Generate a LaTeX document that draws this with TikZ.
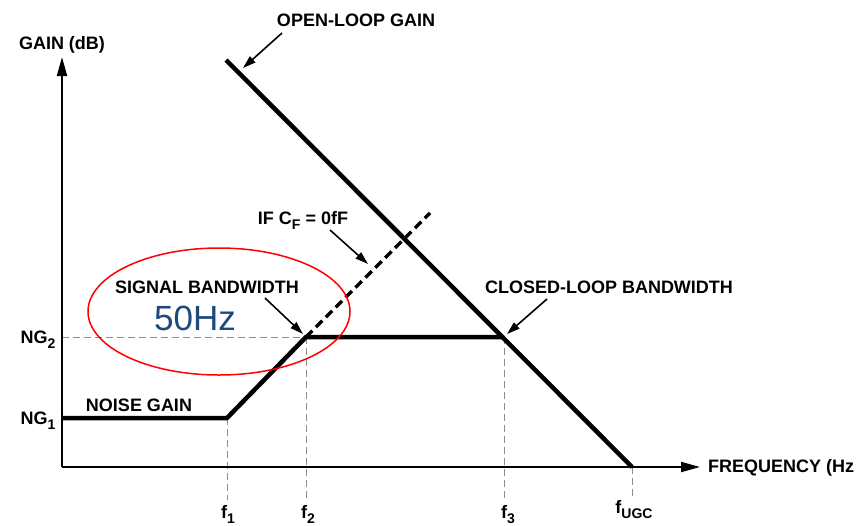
\documentclass[tikz,border=0pt]{standalone}
\usepackage{fontspec}
\setmainfont{Liberation Sans}[BoldFont={Liberation Sans Bold}]
\newfontfamily\lblfont{Liberation Sans Bold}
\usetikzlibrary{arrows.meta,shapes.geometric}
\definecolor{hzblue}{RGB}{31,73,125}
\newcommand\lsub[1]{\raisebox{-5pt}{\fontsize{14}{14}\selectfont #1}}
\begin{document}
\begin{tikzpicture}[x=1pt,y=-1pt,
  lbl/.style={font=\lblfont\fontsize{18}{20}\selectfont, inner sep=0pt},
  curve/.style={line width=4.5pt, line join=miter},
  axisline/.style={line width=2pt, -{Triangle[length=19pt,width=10pt]}},
  leader/.style={line width=1.6pt, -{Triangle[length=13pt,width=8pt]}},
  guide/.style={black!45, line width=1pt, dash pattern=on 7pt off 4pt},
  cfdash/.style={line width=3.5pt, dash pattern=on 9pt off 5pt}]
\useasboundingbox (0,0) rectangle (856,525);
% key points
\coordinate (O) at (62,467);
\coordinate (Ytop) at (62,57);
\coordinate (Xend) at (700,467);
\coordinate (OLa) at (226,60);
\coordinate (OLb) at (632,467);
\coordinate (N0) at (62,418);
\coordinate (N1) at (227,418);
\coordinate (N2) at (306,337);
\coordinate (N3) at (504,337);
\coordinate (CF) at (430,213);
\coordinate (NGl) at (62,337);
\coordinate (V1) at (227,500);
\coordinate (V2) at (306,500);
\coordinate (V3) at (504,500);
\coordinate (V4) at (632,500);
% guides
\draw[guide] (NGl) -- (N2);
\draw[guide] (N1) -- (V1);
\draw[guide] (N2) -- (V2);
\draw[guide] (N3) -- (V3);
\draw[guide] (OLb) -- (V4);
% axes
\draw[axisline] (O) -- (Ytop);
\draw[axisline] (O) -- (Xend);
% curves
\draw[curve] (OLa) -- (OLb);
\draw[curve] (N0) -- (N1) -- (N2) -- (N3);
\draw[cfdash] (N2) -- (CF);
% ellipse
\node[draw=red, line width=1.5pt, ellipse, minimum width=262pt, minimum height=127pt, inner sep=0pt] (ell) at (219,311.5) {};
% labels
\node[lbl] (gain) at (62,45) {GAIN (dB)};
\node[lbl, anchor=west] (freq) at (708,468) {FREQUENCY (Hz};
\node[lbl] (olg) at (356,20) {OPEN-LOOP GAIN};
\node[lbl] (clb) at (609,287) {CLOSED-LOOP BANDWIDTH};
\node[lbl] (sbw) at (207,287) {SIGNAL BANDWIDTH};
\node[lbl, anchor=base] (ifcf) at (303,224) {IF C\lsub{F} = 0fF};
\node[lbl] (ngain) at (139,405) {NOISE GAIN};
\node[lbl, anchor=base] (ng2) at (38,343) {NG\lsub{2}};
\node[lbl, anchor=base] (ng1) at (38,424) {NG\lsub{1}};
\node[lbl, anchor=base] (f1) at (228,518) {f\lsub{1}};
\node[lbl, anchor=base] (f2) at (308,518) {f\lsub{2}};
\node[lbl, anchor=base] (f3) at (508,518) {f\lsub{3}};
\node[lbl, anchor=base] (fugc) at (634,513) {f\lsub{UGC}};
\node[font=\fontsize{35}{38}\selectfont, text=hzblue, inner sep=0pt] (hz) at (195,318) {50Hz};
% leaders
\coordinate (Lo) at (282,33);
\coordinate (Lot) at (243,68);
\coordinate (Lc) at (330,230);
\coordinate (Lct) at (368,264);
\coordinate (Ls) at (265,298);
\coordinate (Lst) at (303,334);
\coordinate (Lk) at (547,299);
\coordinate (Lkt) at (507,334);
\draw[leader] (Lo) -- (Lot);
\draw[leader] (Lc) -- (Lct);
\draw[leader] (Ls) -- (Lst);
\draw[leader] (Lk) -- (Lkt);
\end{tikzpicture}
\end{document}
